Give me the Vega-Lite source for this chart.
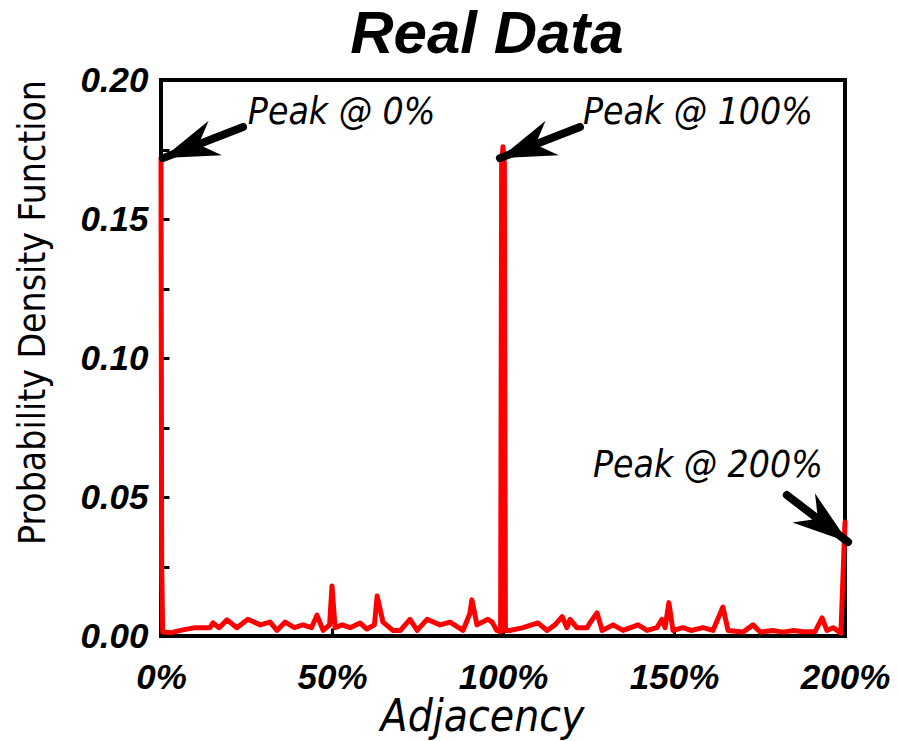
{
  "$schema": "https://vega.github.io/schema/vega-lite/v6.json",
  "width": 684,
  "height": 556,
  "autosize": {"type": "none"},
  "padding": {"left": 161, "top": 80, "right": 53, "bottom": 105},
  "background": "white",
  "title": {
    "text": "Real Data",
    "font": "Liberation Sans",
    "fontSize": 60,
    "fontWeight": "bold",
    "fontStyle": "italic",
    "color": "black",
    "anchor": "middle",
    "frame": "group",
    "baseline": "alphabetic",
    "offset": 22,
    "dy": 72,
    "dx": -16
  },
  "config": {
    "view": {"stroke": "black", "strokeWidth": 4},
    "axis": {
      "domain": false,
      "grid": false,
      "tickColor": "black",
      "tickWidth": 3,
      "tickSize": -8,
      "labelColor": "black",
      "labelFont": "Liberation Sans",
      "labelFontWeight": "bold",
      "labelFontStyle": "italic",
      "labelFontSize": 35,
      "titleColor": "black"
    }
  },
  "datasets": {
    "pdf": [
      {"x": 0, "y": 0.172}, {"x": 0.2, "y": 0.025}, {"x": 0.5, "y": 0.0014}, {"x": 3, "y": 0.0012},
      {"x": 6.4, "y": 0.0022}, {"x": 10, "y": 0.003}, {"x": 14.3, "y": 0.003}, {"x": 15.2, "y": 0.0047},
      {"x": 17, "y": 0.003}, {"x": 19.3, "y": 0.0058}, {"x": 22.2, "y": 0.003}, {"x": 25.4, "y": 0.006},
      {"x": 29, "y": 0.004}, {"x": 31.9, "y": 0.005}, {"x": 33.9, "y": 0.002}, {"x": 36.3, "y": 0.005},
      {"x": 39, "y": 0.003}, {"x": 41.5, "y": 0.004}, {"x": 44, "y": 0.003}, {"x": 45.6, "y": 0.0075},
      {"x": 47.4, "y": 0.002}, {"x": 49.3, "y": 0.004}, {"x": 50.0, "y": 0.018}, {"x": 50.9, "y": 0.003},
      {"x": 53, "y": 0.004}, {"x": 55.3, "y": 0.003}, {"x": 58.2, "y": 0.0047}, {"x": 60.2, "y": 0.0025},
      {"x": 62.4, "y": 0.004}, {"x": 63.2, "y": 0.0144}, {"x": 64.9, "y": 0.005}, {"x": 67.8, "y": 0.002},
      {"x": 70, "y": 0.002}, {"x": 72.8, "y": 0.006}, {"x": 74.9, "y": 0.002}, {"x": 77.8, "y": 0.006},
      {"x": 81.6, "y": 0.004}, {"x": 84.5, "y": 0.005}, {"x": 88.3, "y": 0.002}, {"x": 90.3, "y": 0.008},
      {"x": 90.9, "y": 0.013}, {"x": 92.4, "y": 0.004}, {"x": 95.6, "y": 0.006}, {"x": 96.8, "y": 0.005},
      {"x": 98.2, "y": 0.002}, {"x": 99.3, "y": 0.0015}, {"x": 99.6, "y": 0.17}, {"x": 100.0, "y": 0.176},
      {"x": 100.4, "y": 0.17}, {"x": 100.7, "y": 0.002}, {"x": 102.0, "y": 0.002}, {"x": 105.9, "y": 0.003},
      {"x": 110.2, "y": 0.0047}, {"x": 112.9, "y": 0.002}, {"x": 115.2, "y": 0.004}, {"x": 117.3, "y": 0.007},
      {"x": 118.7, "y": 0.003}, {"x": 119.6, "y": 0.006}, {"x": 121.6, "y": 0.003}, {"x": 124.6, "y": 0.003},
      {"x": 125.4, "y": 0.0047}, {"x": 127.5, "y": 0.0083}, {"x": 129.0, "y": 0.002}, {"x": 132.2, "y": 0.004},
      {"x": 135.1, "y": 0.002}, {"x": 139.5, "y": 0.004}, {"x": 142.1, "y": 0.002}, {"x": 145.0, "y": 0.003},
      {"x": 146.5, "y": 0.006}, {"x": 147.4, "y": 0.003}, {"x": 148.5, "y": 0.012}, {"x": 149.7, "y": 0.002},
      {"x": 152.6, "y": 0.003}, {"x": 155, "y": 0.002}, {"x": 158.5, "y": 0.003}, {"x": 161.4, "y": 0.002},
      {"x": 164.3, "y": 0.0104}, {"x": 165.8, "y": 0.002}, {"x": 170.2, "y": 0.0014}, {"x": 173.1, "y": 0.004},
      {"x": 175.2, "y": 0.0014}, {"x": 178.9, "y": 0.002}, {"x": 181.9, "y": 0.0014}, {"x": 185, "y": 0.002},
      {"x": 187.7, "y": 0.0015}, {"x": 191.2, "y": 0.0015}, {"x": 193.3, "y": 0.0065}, {"x": 194.7, "y": 0.002},
      {"x": 196.5, "y": 0.003}, {"x": 197.7, "y": 0.002}, {"x": 198.8, "y": 0.001}, {"x": 200, "y": 0.041}
    ],
    "arrows": [
      {"id": "a0", "x": 24.0, "y": 0.1831, "x2": 0.58, "y2": 0.1719},
      {"id": "a100", "x": 122.5, "y": 0.1831, "x2": 99.1, "y2": 0.1719},
      {"id": "a200", "x": 183.0, "y": 0.0507, "x2": 200.9, "y2": 0.0338}
    ],
    "labels": [
      {"x": 25.4, "y": 0.1842, "text": "Peak @ 0%"},
      {"x": 123.4, "y": 0.1842, "text": "Peak @ 100%"},
      {"x": 126.3, "y": 0.0572, "text": "Peak @ 200%"}
    ]
  },
  "layer": [
    {
      "data": {"name": "pdf"},
      "mark": {"type": "line", "color": "#ff0000", "strokeWidth": 5, "strokeJoin": "round", "strokeCap": "round", "clip": false},
      "encoding": {
        "x": {
          "field": "x", "type": "quantitative",
          "scale": {"domain": [0, 200], "nice": false, "zero": false},
          "axis": {
            "values": [0, 50, 100, 150, 200],
            "labelExpr": "datum.value + '%'",
            "labelFlush": false,
            "labelPadding": 32,
            "title": "Adjacency",
            "titleFont": "DejaVu Sans Condensed, Liberation Sans",
            "titleFontSize": 44,
            "titleFontWeight": "normal",
            "titleFontStyle": "italic",
            "titleX": 321,
            "titleY": 94,
            "titleAlign": "center",
            "titleBaseline": "alphabetic"
          }
        },
        "y": {
          "field": "y", "type": "quantitative",
          "scale": {"domain": [0, 0.2], "nice": false},
          "axis": {
            "values": [0, 0.025, 0.05, 0.075, 0.1, 0.125, 0.15, 0.175, 0.2],
            "labelExpr": "round(datum.value * 1000) % 50 == 0 ? format(datum.value, '.2f') : ''",
            "labelPadding": 21,
            "title": "Probability Density Function",
            "titleFont": "DejaVu Sans Condensed, Liberation Sans",
            "titleFontSize": 37,
            "titleFontWeight": "normal",
            "titleX": -128,
            "titleY": 232,
            "titleAngle": 270,
            "titleAlign": "center",
            "titleBaseline": "middle"
          }
        }
      }
    },
    {
      "data": {"name": "arrows"},
      "mark": {"type": "rule", "color": "black", "strokeWidth": 8, "strokeCap": "round", "clip": false},
      "encoding": {
        "x": {"field": "x", "type": "quantitative"},
        "y": {"field": "y", "type": "quantitative"},
        "x2": {"field": "x2"},
        "y2": {"field": "y2"}
      }
    },
    {
      "data": {"name": "arrows"},
      "transform": [{"filter": "datum.id != 'a200'"}],
      "mark": {"type": "point", "shape": "M0,0 L0.66,2 L0,1.36 L-0.66,2 Z", "filled": true, "color": "black", "opacity": 1, "size": 3136, "angle": 249, "clip": false},
      "encoding": {
        "x": {"field": "x2", "type": "quantitative"},
        "y": {"field": "y2", "type": "quantitative"}
      }
    },
    {
      "data": {"name": "arrows"},
      "transform": [{"filter": "datum.id == 'a200'"}],
      "mark": {"type": "point", "shape": "M0,0 L0.66,2 L0,1.36 L-0.66,2 Z", "filled": true, "color": "black", "opacity": 1, "size": 3136, "angle": 127.6, "clip": false},
      "encoding": {
        "x": {"field": "x2", "type": "quantitative"},
        "y": {"field": "y2", "type": "quantitative"}
      }
    },
    {
      "data": {"name": "labels"},
      "mark": {"type": "text", "align": "left", "baseline": "alphabetic", "font": "DejaVu Sans Condensed, Liberation Sans", "fontSize": 37, "fontStyle": "italic", "color": "black"},
      "encoding": {
        "x": {"field": "x", "type": "quantitative"},
        "y": {"field": "y", "type": "quantitative"},
        "text": {"field": "text"}
      }
    }
  ]
}
